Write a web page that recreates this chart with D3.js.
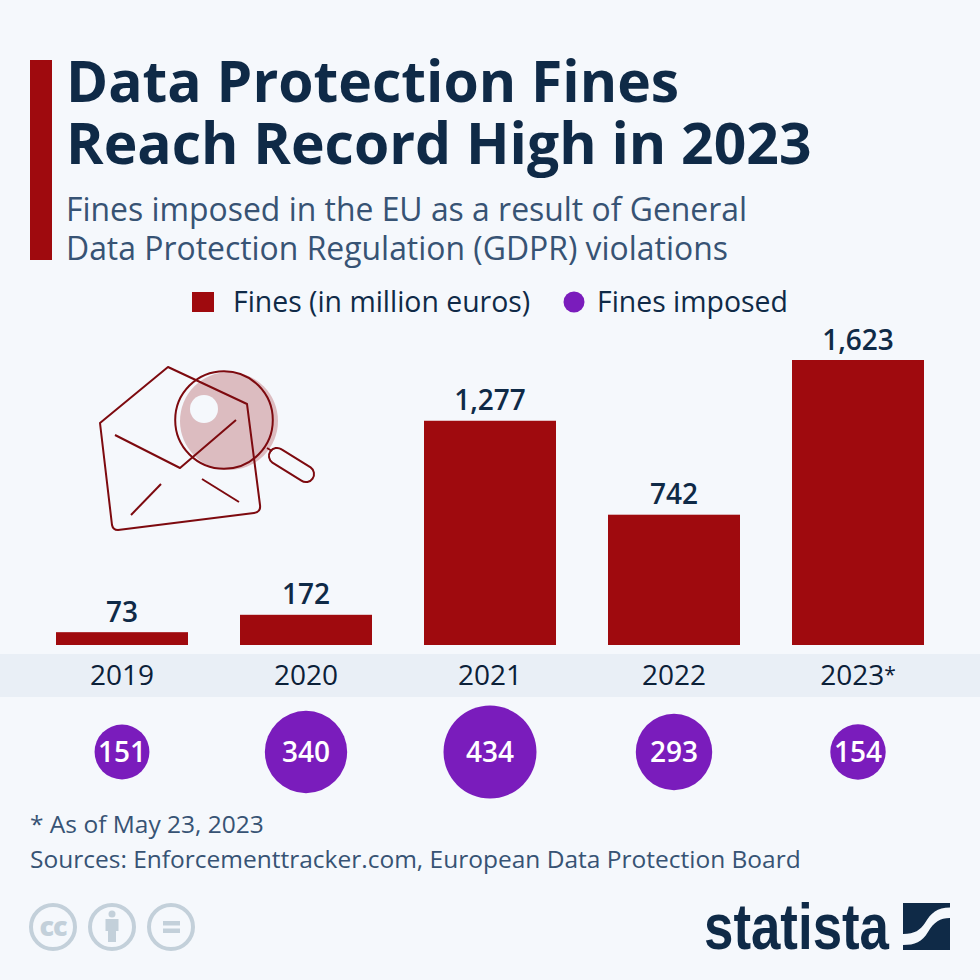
<!DOCTYPE html>
<html>
<head>
<meta charset="utf-8">
<script src="https://cdnjs.cloudflare.com/ajax/libs/d3/7.8.5/d3.min.js"></script>
<style>
    html, body { margin: 0; padding: 0; background: #f5f8fc; }
    svg { display: block; }
    text { font-family: "Open Sans", sans-serif; }
    .logo { font-family: "Liberation Sans Narrow", "Liberation Sans", sans-serif; }
</style>
</head>
<body>
<svg id="chart" width="980" height="980"></svg>
<script>
"use strict";
var years = ["2019", "2020", "2021", "2022", "2023*"];
var finesMillions = [73, 172, 1277, 742, 1623];
var finesImposed = [151, 340, 434, 293, 154];
var titleLines = ["Data Protection Fines", "Reach Record High in 2023"];
var subtitleLines = ["Fines imposed in the EU as a result of General", "Data Protection Regulation (GDPR) violations"];
var footLines = ["* As of May 23, 2023", "Sources: Enforcementtracker.com, European Data Protection Board"];

var RED = "#9f0a0e", PURPLE = "#7a1cbc", NAVY = "#0f2a47", SLATE = "#375374", GREY = "#c3d0da";

var svg = d3.select("#chart");
svg.append("rect").attr("width", 980).attr("height", 980).attr("fill", "#f5f8fc");

//  Header  ---
svg.append("rect").attr("x", 30).attr("y", 60).attr("width", 22).attr("height", 200).attr("fill", RED);
svg.selectAll(".title").data(titleLines).enter().append("text")
    .attr("class", "title")
    .attr("x", 66)
    .attr("y", function (d, i) { return 102 + i * 62; })
    .attr("font-size", 57)
    .attr("font-weight", 700)
    .attr("fill", NAVY)
    .text(function (d) { return d; });
svg.selectAll(".subtitle").data(subtitleLines).enter().append("text")
    .attr("class", "subtitle")
    .attr("x", 66)
    .attr("y", function (d, i) { return 221 + i * 39; })
    .attr("font-size", 31.9)
    .attr("fill", SLATE)
    .text(function (d) { return d; });

//  Legend  ---
svg.append("rect").attr("x", 192).attr("y", 292).attr("width", 22).attr("height", 20).attr("fill", RED);
svg.append("text").attr("x", 233).attr("y", 312).attr("font-size", 28.4).attr("fill", NAVY).text("Fines (in million euros)");
svg.append("circle").attr("cx", 574).attr("cy", 302).attr("r", 10.5).attr("fill", PURPLE);
svg.append("text").attr("x", 597).attr("y", 312).attr("font-size", 28.4).attr("fill", NAVY).text("Fines imposed");

//  Scales  ---
var x = d3.scaleBand().domain(years).range([30, 950]).paddingInner(0.2826).paddingOuter(0.1413);
var y = d3.scaleLinear().domain([0, 1623]).range([645, 360]);
var r = d3.scaleSqrt().domain([0, 434]).range([0, 46.5]);
var fmt = d3.format(",");

//  Category strip  ---
svg.append("rect").attr("x", 0).attr("y", 654).attr("width", 980).attr("height", 43).attr("fill", "#e9eff6");
var axis = svg.append("g").attr("transform", "translate(0,654)")
    .call(d3.axisBottom(x).tickSize(0).tickPadding(0));
axis.select(".domain").remove();
axis.selectAll("text")
    .attr("y", 0).attr("dy", 31)
    .attr("font-size", 28)
    .attr("font-family", '"Open Sans", sans-serif')
    .attr("fill", "#0b2038")
    .each(function (d) {
        // footnote mark is set smaller than the year
        if (d.slice(-1) !== "*") return;
        var t = d3.select(this).text(d.slice(0, -1));
        t.append("tspan").attr("font-size", 21).attr("dy", -3).text("*");
    });

//  Bars  ---
svg.selectAll(".bar").data(finesMillions).enter().append("rect")
    .attr("class", "bar")
    .attr("x", function (d, i) { return x(years[i]); })
    .attr("y", function (d) { return y(d); })
    .attr("width", x.bandwidth())
    .attr("height", function (d) { return y(0) - y(d); })
    .attr("fill", RED);
svg.selectAll(".barLabel").data(finesMillions).enter().append("text")
    .attr("class", "barLabel")
    .attr("x", function (d, i) { return x(years[i]) + x.bandwidth() / 2; })
    .attr("y", function (d) { return y(d) - 10.5; })
    .attr("text-anchor", "middle")
    .attr("font-size", 28)
    .attr("font-weight", 600)
    .attr("fill", NAVY)
    .text(function (d) { return fmt(d); });

//  Bubbles  ---
svg.selectAll(".bubble").data(finesImposed).enter().append("circle")
    .attr("class", "bubble")
    .attr("cx", function (d, i) { return x(years[i]) + x.bandwidth() / 2; })
    .attr("cy", 752)
    .attr("r", function (d) { return r(d); })
    .attr("fill", PURPLE);
svg.selectAll(".bubbleLabel").data(finesImposed).enter().append("text")
    .attr("class", "bubbleLabel")
    .attr("x", function (d, i) { return x(years[i]) + x.bandwidth() / 2; })
    .attr("y", 762)
    .attr("text-anchor", "middle")
    .attr("font-size", 28)
    .attr("font-weight", 600)
    .attr("fill", "#ffffff")
    .text(function (d) { return d; });

//  Envelope and magnifier  ---
var icon = svg.append("g").attr("fill", "none").attr("stroke", "#7d0a0f").attr("stroke-width", 2).attr("stroke-linejoin", "round");
icon.append("circle").attr("cx", 229).attr("cy", 421).attr("r", 49).attr("fill", "#dcbcc0").attr("stroke", "none");
icon.append("circle").attr("cx", 204).attr("cy", 409).attr("r", 14).attr("fill", "#f5f8fc").attr("stroke", "none");
icon.append("circle").attr("cx", 224).attr("cy", 420).attr("r", 48.8);
icon.append("path").attr("d", "M168,367L247,404L260,505Q261,512 254,513L118,530Q113,530 112,525L100,423Z");
icon.append("path").attr("d", "M115,435L180,468L236,420");
icon.append("path").attr("d", "M131,515L161,484");
icon.append("path").attr("d", "M202,479L239,502");
icon.append("path").attr("d", "M267,448L272,451");
icon.append("path").attr("d", "M281.600,449.400L310.600,467.400A8,8 0 0 1 301.400,480.600L272.400,462.600A8,8 0 0 1 281.600,449.400Z");

//  Footer  ---
svg.selectAll(".foot").data(footLines).enter().append("text")
    .attr("class", "foot")
    .attr("x", 30)
    .attr("y", function (d, i) { return 833 + i * 34.500; })
    .attr("font-size", 24.5)
    .attr("fill", SLATE)
    .text(function (d) { return d; });

//  Licence badges  ---
var badges = svg.append("g");
[53, 112, 171].forEach(function (cx) {
    badges.append("circle").attr("cx", cx).attr("cy", 927).attr("r", 22).attr("fill", "none").attr("stroke", GREY).attr("stroke-width", 4);
});
badges.append("text").attr("x", 53).attr("y", 936).attr("text-anchor", "middle").attr("font-size", 27)
    .attr("font-weight", 800).attr("fill", GREY).attr("letter-spacing", -1).text("cc");
badges.append("circle").attr("cx", 112).attr("cy", 914).attr("r", 3.5).attr("fill", GREY);
badges.append("path").attr("fill", GREY).attr("d", "M105.500,919H118.500V931H116V942H108V931H105.500Z");
badges.append("rect").attr("x", 163).attr("y", 921).attr("width", 17).attr("height", 4.500).attr("fill", GREY);
badges.append("rect").attr("x", 163).attr("y", 928.500).attr("width", 17).attr("height", 4.500).attr("fill", GREY);

//  Logo  ---
svg.append("text").attr("class", "logo").attr("x", 704).attr("y", 949)
    .attr("font-size", 64).attr("font-weight", 700).attr("fill", NAVY)
    .attr("textLength", 185).attr("lengthAdjust", "spacingAndGlyphs")
    .text("statista");
svg.append("path").attr("fill", NAVY)
    .attr("d", "M903,903H950V907.500C937,907.500 931,913 925,923C920,930 915,934 903,934Z");
svg.append("path").attr("fill", NAVY)
    .attr("d", "M950,918V950H903V945C915,945 922,942 928,932C934,922 940,918 950,918Z");
</script>
</body>
</html>
